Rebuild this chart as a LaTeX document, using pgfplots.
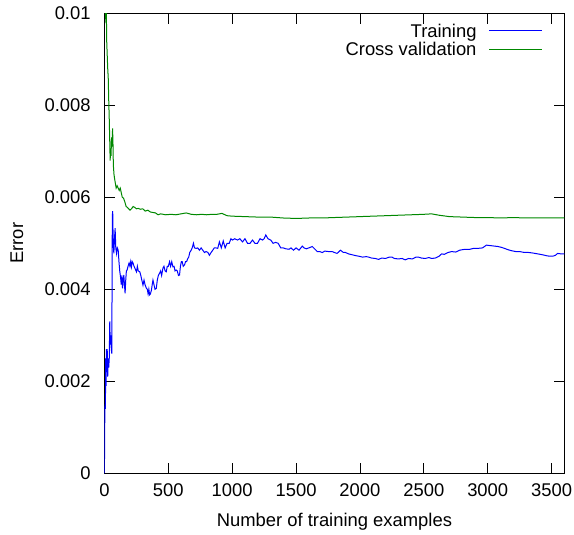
\documentclass[border=0pt]{standalone}
\usepackage{fontspec}
\setmainfont{Liberation Sans}
\usepackage{pgfplots}
\pgfplotsset{compat=1.18}
\definecolor{gpblue}{rgb}{0,0,1}
\definecolor{gpgreen}{rgb}{0,0.533,0}
\newcommand{\gpfont}{\fontsize{18.4bp}{22bp}\selectfont}
\begin{document}
\begin{tikzpicture}
\begin{axis}[
  at={(0,0)}, anchor=south west,
  scale only axis, width=460bp, height=460bp,
  xmin=0, xmax=3600, ymin=0, ymax=0.01,
  xtick={0,500,1000,1500,2000,2500,3000,3500},
  ytick={0,0.002,0.004,0.006,0.008,0.01},
  yticklabels={0,0.002,0.004,0.006,0.008,0.01},
  scaled y ticks=false, scaled x ticks=false,
  /pgf/number format/assume math mode=true,
  /pgf/number format/1000 sep={},
  tick align=inside, major tick length=10.5bp,
  tick style={black, line width=0.8bp},
  axis line style={black, line width=1bp},
  xticklabel style={yshift=-7bp, font=\gpfont},
  yticklabel style={xshift=-10.3bp, font=\gpfont},
  xlabel={Number of training examples},
  ylabel={Error},
  xlabel style={at={(axis description cs:0.5,0)}, yshift=-39.7bp, anchor=north, inner sep=0pt, font=\gpfont},
  ylabel style={at={(axis description cs:-0.19,0.5)}, anchor=center, inner sep=0pt, font=\gpfont},
  clip=true,
]
\addplot[color=blue, line width=1bp] coordinates {
(0,0) (3,0.0012) (5,0.0015) (8,0.0014) (10,0.0025) (13,0.0019) (16,0.0027) (19,0.0022) (22,0.0027) (26,0.0021) (30,0.0025) (34,0.0023) (38,0.0025) (42,0.0033) (46,0.0028) (50,0.0030) (54,0.0027) (58,0.0026) (62,0.0056) (65,0.0057) (69,0.0050) (74,0.00478) (79,0.0051) (84,0.00533) (89,0.0049) (95,0.00478) (101,0.0049) (108,0.00485) (114,0.0046) (120,0.0044) (126,0.00427) (132,0.0041) (137,0.0043) (142,0.00402) (147,0.0042) (152,0.00431) (157,0.0041) (162,0.00391) (167,0.0042) (172,0.0044) (178,0.00442) (185,0.0045) (193,0.00457) (200,0.0045) (206,0.0046) (212,0.00449) (218,0.0046) (224,0.00457) (232,0.0045) (240,0.00445) (251,0.00438) (258,0.0045) (265,0.0044) (277,0.00438) (285,0.0043) (293,0.0042) (302,0.00409) (310,0.0042) (318,0.0041) (329,0.00402) (336,0.0040) (342,0.0039) (348,0.0040) (354,0.00388) (360,0.0039) (368,0.00398) (374,0.0041) (380,0.0042) (388,0.0041) (396,0.0040) (406,0.00402) (414,0.0042) (422,0.0043) (432,0.00435) (440,0.0044) (448,0.0043) (458,0.00446) (466,0.0045) (475,0.0044) (484,0.00438) (492,0.0045) (500,0.0045) (510,0.0046) (518,0.0045) (527,0.0046) (536,0.00449) (545,0.0045) (553,0.0044) (562,0.00442) (570,0.0044) (580,0.0043) (588,0.00431) (595,0.0045) (602,0.0046) (609,0.0046) (617,0.0045) (627,0.00453) (635,0.0046) (643,0.0046) (653,0.00467) (660,0.0047) (668,0.0048) (679,0.00485) (687,0.0049) (697,0.0050) (705,0.0049) (718,0.00489) (730,0.0049) (744,0.00485) (757,0.0049) (770,0.00485) (783,0.0048) (796,0.00482) (810,0.0048) (822,0.00474) (835,0.0048) (848,0.00485) (860,0.0049) (873,0.0049) (887,0.00489) (900,0.00503) (915,0.0049) (930,0.00505) (945,0.0049) (960,0.0050) (977,0.0050) (990,0.0051) (1003,0.00507) (1020,0.0051) (1042,0.00507) (1060,0.0051) (1081,0.00503) (1100,0.0051) (1120,0.0050) (1140,0.0050) (1159,0.00507) (1178,0.0050) (1198,0.0050) (1218,0.0051) (1237,0.00507) (1250,0.0051) (1263,0.00518) (1280,0.0051) (1302,0.00507) (1320,0.0050) (1340,0.00502) (1360,0.0050) (1380,0.0049) (1400,0.0049) (1420,0.00488) (1445,0.00487) (1460,0.0049) (1480,0.00485) (1500,0.0049) (1523,0.00485) (1549,0.00494) (1562,0.0049) (1580,0.00488) (1600,0.0049) (1627,0.00493) (1645,0.00488) (1666,0.00482) (1685,0.00482) (1705,0.0048) (1725,0.00483) (1757,0.00482) (1783,0.00482) (1800,0.0048) (1821,0.00478) (1848,0.00485) (1870,0.0048) (1887,0.0048) (1910,0.00477) (1940,0.00475) (1970,0.00473) (1990,0.00472) (2020,0.0047) (2050,0.00471) (2068,0.0047) (2090,0.00468) (2120,0.00467) (2146,0.00465) (2170,0.00468) (2200,0.00467) (2230,0.0047) (2250,0.0047) (2270,0.00467) (2300,0.00466) (2330,0.00467) (2354,0.00464) (2380,0.00467) (2410,0.00466) (2440,0.0047) (2457,0.0047) (2480,0.00468) (2510,0.00467) (2540,0.00469) (2561,0.00467) (2590,0.00468) (2620,0.00472) (2639,0.00477) (2660,0.00476) (2690,0.0048) (2717,0.00482) (2750,0.00481) (2780,0.00485) (2821,0.00487) (2860,0.00487) (2890,0.00489) (2924,0.00489) (2960,0.0049) (2989,0.00496) (3020,0.00495) (3050,0.00494) (3080,0.00493) (3110,0.00491) (3140,0.00488) (3160,0.00486) (3184,0.00484) (3220,0.00482) (3250,0.00482) (3288,0.0048) (3320,0.0048) (3350,0.00479) (3391,0.00477) (3430,0.00475) (3460,0.00473) (3482,0.00472) (3510,0.00472) (3530,0.00474) (3547,0.00478) (3575,0.00477) (3600,0.00477)
};
\addplot[color=gpgreen, line width=1bp] coordinates {
(1,0.0125) (5,0.0105) (8,0.0100) (12,0.0098) (15,0.0101) (18,0.0094) (22,0.0091) (26,0.0088) (30,0.0086) (34,0.0081) (38,0.0077) (42,0.0072) (45,0.0068) (48,0.0070) (52,0.0069) (56,0.0073) (60,0.0071) (64,0.0075) (67,0.0072) (70,0.0067) (75,0.0065) (80,0.0064) (86,0.0063) (92,0.0062) (100,0.00625) (108,0.0062) (116,0.00615) (124,0.0062) (132,0.0061) (140,0.0060) (150,0.00598) (160,0.0059) (170,0.0058) (180,0.00578) (190,0.00575) (200,0.00572) (212,0.00575) (225,0.0058) (238,0.00578) (250,0.00575) (265,0.00576) (280,0.00574) (300,0.00575) (320,0.0057) (340,0.00572) (360,0.00568) (380,0.00567) (400,0.00566) (420,0.00562) (440,0.00564) (460,0.00563) (480,0.00562) (520,0.00563) (560,0.00562) (600,0.00564) (640,0.00566) (680,0.00563) (720,0.00562) (760,0.00563) (800,0.00562) (840,0.00563) (880,0.00563) (920,0.00565) (960,0.0056) (1000,0.00559) (1100,0.00558) (1200,0.00557) (1300,0.00557) (1400,0.00555) (1500,0.00554) (1600,0.00555) (1700,0.00555) (1800,0.00556) (1900,0.00557) (2000,0.00558) (2100,0.00559) (2200,0.0056) (2300,0.00561) (2400,0.00562) (2500,0.00563) (2560,0.00564) (2620,0.00561) (2700,0.00558) (2800,0.00557) (2900,0.00556) (3000,0.00556) (3100,0.00555) (3200,0.00556) (3300,0.00555) (3400,0.00555) (3500,0.00555) (3600,0.00555)
};
\end{axis}
% legend (decoration, drawn outside the axis)
\draw[color=blue, line width=1bp] (384.6bp,442.3bp) -- (437.6bp,442.3bp);
\draw[color=gpgreen, line width=1bp] (384.6bp,424bp) -- (437.6bp,424bp);
\node[anchor=base east, inner sep=0pt, font=\gpfont, text=black] at (372.3bp,435.7bp) {Training};
\node[anchor=base east, inner sep=0pt, font=\gpfont, text=black] at (372.3bp,417.4bp) {Cross validation};
\pgfresetboundingbox
\path (-104.4bp,-61.7bp) rectangle (469.6bp,473.3bp);
\end{tikzpicture}
\end{document}
